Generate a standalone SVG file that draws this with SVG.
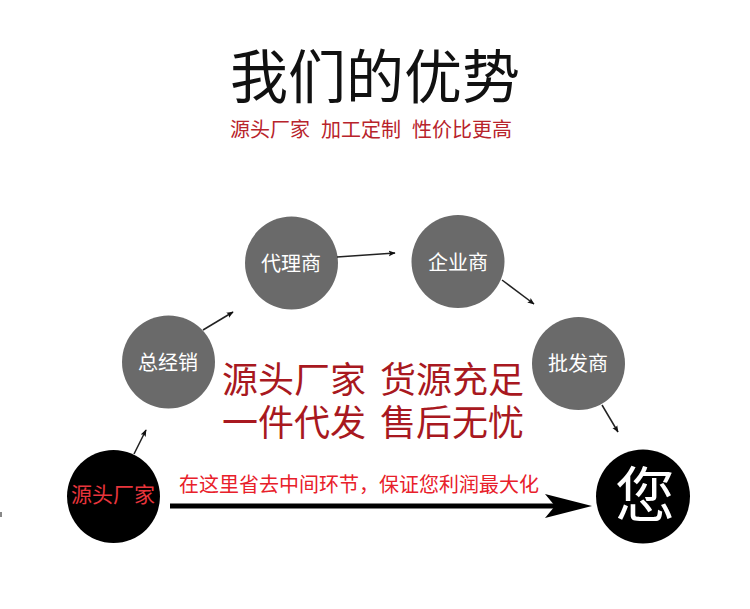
<svg xmlns="http://www.w3.org/2000/svg" width="750" height="609" viewBox="0 0 750 609">
<style>
text{font-family:"Noto Sans CJK SC","Noto Sans",sans-serif;}
.gray{fill:#6a6a6a;}
.blk{fill:#000;}
.nl{fill:#fff;font-size:20px;text-anchor:middle;}
.thin{stroke:#222;stroke-width:1.5;fill:none;marker-end:url(#ah);}
</style>
<defs>
<marker id="ah" viewBox="0 0 10 10" refX="9" refY="5" markerWidth="7" markerHeight="7" markerUnits="userSpaceOnUse" orient="auto">
<path d="M0,1 L10,5 L0,9 L2,5 Z" fill="#111"/>
</marker>
</defs>
<rect width="750" height="609" fill="#fff"/>
<text x="375" y="98" font-size="58" text-anchor="middle" fill="#111">我们的优势</text>
<g fill="#b8232b" font-size="20">
<text x="230" y="137">源头厂家</text>
<text x="321" y="137">加工定制</text>
<text x="412" y="137">性价比更高</text>
</g>
<g fill="#a81820" font-size="36">
<text x="222" y="393">源头厂家</text>
<text x="380" y="393">货源充足</text>
<text x="222" y="436">一件代发</text>
<text x="380" y="436">售后无忧</text>
</g>
<text x="179" y="492" font-size="20" fill="#e8202a">在这里省去中间环节，保证您利润最大化</text>
<g id="n-source"><circle class="blk" cx="113.5" cy="496.5" r="46.5"/><text x="113" y="502" font-size="21" text-anchor="middle" fill="#e8353c">源头厂家</text></g>
<g id="n-zjx"><circle class="gray" cx="168.5" cy="362" r="46.5"/><text class="nl" x="168" y="370">总经销</text></g>
<g id="n-dls"><circle class="gray" cx="291.5" cy="263" r="46.5"/><text class="nl" x="291" y="271">代理商</text></g>
<g id="n-qys"><circle class="gray" cx="458" cy="261.5" r="46.5"/><text class="nl" x="458" y="270">企业商</text></g>
<g id="n-pfs"><circle class="gray" cx="578.5" cy="363.5" r="46.5"/><text class="nl" x="578" y="371">批发商</text></g>
<g id="n-you"><circle class="blk" cx="643" cy="496.5" r="47"/><text x="645" y="517" font-size="60" text-anchor="middle" fill="#fff">您</text></g>
<g id="connectors">
<line class="thin" x1="134" y1="454" x2="146" y2="430"/>
<line class="thin" x1="203" y1="330" x2="233" y2="312"/>
<line class="thin" x1="337" y1="257" x2="395" y2="253"/>
<line class="thin" x1="502" y1="280" x2="534" y2="304"/>
<line class="thin" x1="602" y1="405" x2="618" y2="432"/>
<line x1="170" y1="506" x2="556" y2="506" stroke="#000" stroke-width="5"/>
<path d="M592,506 L545,494 L555,506 L545,518 Z" fill="#000"/>
</g>
<rect x="0" y="512" width="2" height="5" fill="#888"/>
</svg>
